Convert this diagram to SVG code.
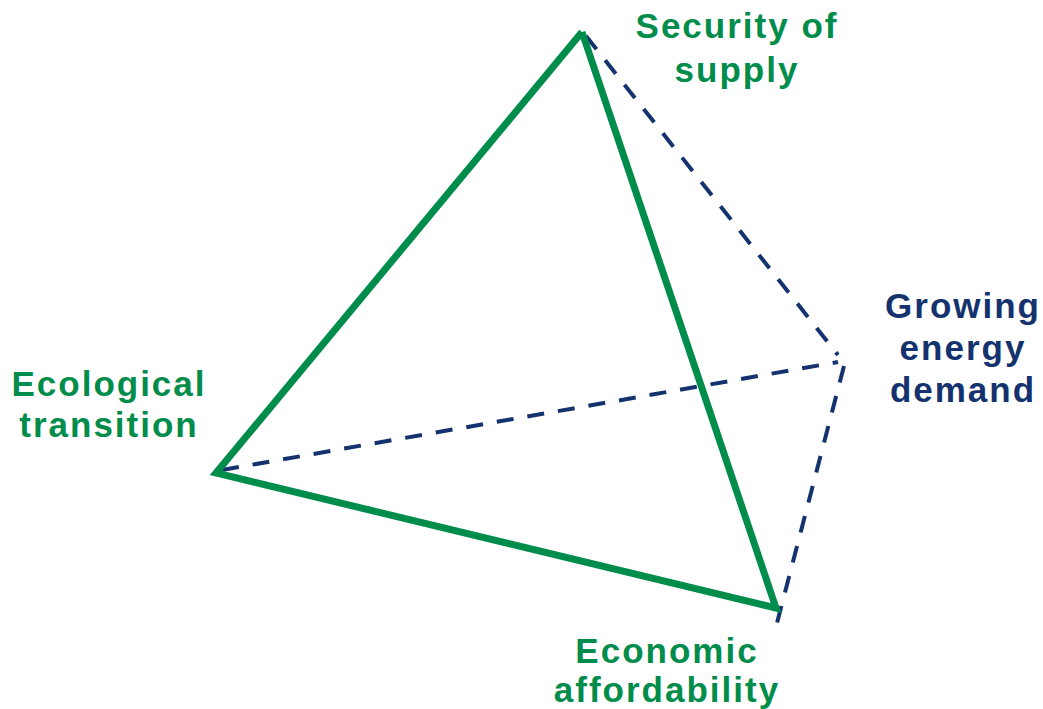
<svg xmlns="http://www.w3.org/2000/svg" width="1043" height="709" viewBox="0 0 1043 709">
<style>
.solid{stroke:#008C4B;stroke-width:7;fill:none;stroke-linejoin:miter;stroke-linecap:butt}
.dash{stroke:#14336E;stroke-width:4;fill:none;stroke-dasharray:17 14}
.lbl{font-family:"Liberation Sans",Arial,sans-serif;font-weight:bold;font-size:35px;letter-spacing:2px;text-anchor:middle}
.g{fill:#008C4B}
.b{fill:#14336E}
</style>
<rect width="1043" height="709" fill="#fff"/>
<g id="connectors">
<line class="dash" x1="586" y1="36" x2="838" y2="355"/>
<line class="dash" x1="222" y1="470" x2="838" y2="362"/>
<line class="dash" x1="844" y1="366" x2="777" y2="623"/>
<polyline class="solid" points="582,32 216,473 776,608 582,32"/>
</g>
<g id="security">
<text class="lbl g" x="737" y="38">Security of</text>
<text class="lbl g" x="737" y="82">supply</text>
</g>
<g id="growing">
<text class="lbl b" x="963" y="318">Growing</text>
<text class="lbl b" x="963" y="360">energy</text>
<text class="lbl b" x="963" y="402">demand</text>
</g>
<g id="ecological">
<text class="lbl g" x="109" y="396">Ecological</text>
<text class="lbl g" x="109" y="437">transition</text>
</g>
<g id="economic">
<text class="lbl g" x="667" y="663">Economic</text>
<text class="lbl g" x="667" y="702">affordability</text>
</g>
</svg>
